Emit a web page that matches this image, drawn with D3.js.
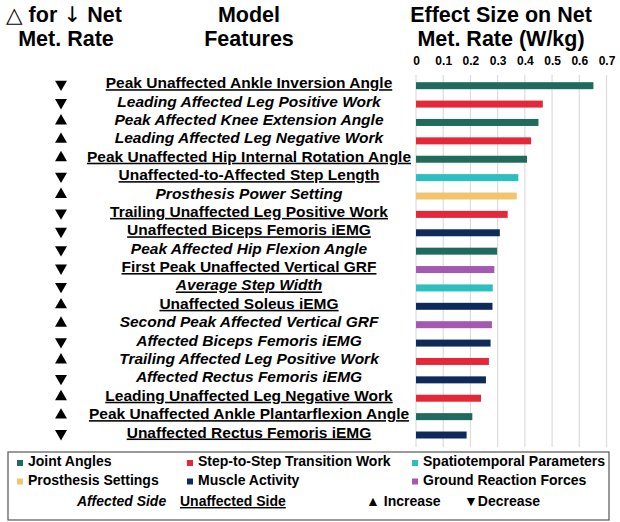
<!DOCTYPE html>
<html>
<head>
<meta charset="utf-8">
<script src="https://cdn.jsdelivr.net/npm/d3@7"></script>
<style>
  body { margin: 0; background: #fff; }
  svg { display: block; font-family: "Liberation Sans", Arial, sans-serif; font-weight: bold; }
</style>
</head>
<body>
<div id="chart"></div>
<script>
// model features, top to bottom
var features = [
  'Peak Unaffected Ankle Inversion Angle',
  'Leading Affected Leg Positive Work',
  'Peak Affected Knee Extension Angle',
  'Leading Affected Leg Negative Work',
  'Peak Unaffected Hip Internal Rotation Angle',
  'Unaffected-to-Affected Step Length',
  'Prosthesis Power Setting',
  'Trailing Unaffected Leg Positive Work',
  'Unaffected Biceps Femoris iEMG',
  'Peak Affected Hip Flexion Angle',
  'First Peak Unaffected Vertical GRF',
  'Average Step Width',
  'Unaffected Soleus iEMG',
  'Second Peak Affected Vertical GRF',
  'Affected Biceps Femoris iEMG',
  'Trailing Affected Leg Positive Work',
  'Affected Rectus Femoris iEMG',
  'Leading Unaffected Leg Negative Work',
  'Peak Unaffected Ankle Plantarflexion Angle',
  'Unaffected Rectus Femoris iEMG'
]
var effectSizes = [0.652, 0.466, 0.450, 0.423, 0.408, 0.376, 0.370, 0.337, 0.308, 0.298,
                   0.288, 0.282, 0.281, 0.279, 0.274, 0.268, 0.257, 0.239, 0.207, 0.186]
var directions = ['down', 'down', 'up', 'up', 'up', 'down', 'up', 'down', 'down', 'down',
                  'down', 'down', 'up', 'up', 'down', 'up', 'down', 'up', 'up', 'down']
// 'U' unaffected (underlined), 'A' affected (italic), 'AU' both
var sides = ['U', 'A', 'A', 'A', 'U', 'U', 'A', 'U', 'U', 'A',
             'U', 'AU', 'U', 'A', 'A', 'A', 'A', 'U', 'U', 'U']
var featureGroups = ['joint', 's2s', 'joint', 's2s', 'joint', 'spatio', 'prosth', 's2s', 'muscle', 'joint',
                     'grf', 'spatio', 'muscle', 'grf', 'muscle', 's2s', 'muscle', 's2s', 'joint', 'muscle']

var groupKeys = ['joint', 's2s', 'spatio', 'prosth', 'muscle', 'grf']
var groupNames = ['Joint Angles', 'Step-to-Step Transition Work', 'Spatiotemporal Parameters',
                  'Prosthesis Settings', 'Muscle Activity', 'Ground Reaction Forces']
var groupColors = ['#1f6b5c', '#e4283a', '#2cbfbf', '#f1c46d', '#0e2a5b', '#a359b1']
var xTicks = [0, 0.1, 0.2, 0.3, 0.4, 0.5, 0.6, 0.7]

var width = 620, height = 522

var svg = d3.select('#chart').append('svg')
  .attr('width', width)
  .attr('height', height)

var color = d3.scaleOrdinal().domain(groupKeys).range(groupColors)

var x = d3.scaleLinear().domain([0, 0.7]).range([416, 606.5])
var y = d3.scaleBand().domain(features).range([76.5, 444.2])
  .paddingInner(0.62).paddingOuter(0.31)

// headers
var headers = [
  { x: 249, lines: ['Model', 'Features'] },
  { x: 501, lines: ['Effect Size on Net', 'Met. Rate (W/kg)'] }
]
headers.forEach(function (h) {
  h.lines.forEach(function (l, i) {
    svg.append('text')
      .attr('x', h.x)
      .attr('y', 22 + i * 24)
      .attr('text-anchor', 'middle')
      .style('font-size', '21.5px')
      .text(l)
  })
})
// first header has the delta and arrow glyphs in a lighter face
var h1 = svg.append('text')
  .attr('x', 64)
  .attr('y', 22)
  .attr('text-anchor', 'middle')
  .style('font-size', '21.5px')
h1.append('tspan').style('font-family', '"DejaVu Sans"').style('font-weight', 'normal').text('\u25B3')
h1.append('tspan').text(' for ')
h1.append('tspan').style('font-family', '"DejaVu Sans"').style('font-weight', 'normal').text('\u2193')
h1.append('tspan').text(' Net')
svg.append('text')
  .attr('x', 66)
  .attr('y', 46)
  .attr('text-anchor', 'middle')
  .style('font-size', '21.5px')
  .text('Met. Rate')

// gridlines
svg.append('g')
  .selectAll('line')
  .data(xTicks)
  .enter()
  .append('line')
    .attr('x1', function (d) { return x(d) })
    .attr('x2', function (d) { return x(d) })
    .attr('y1', 75)
    .attr('y2', 447)
    .attr('stroke', '#dcdcdc')
    .attr('stroke-width', 1.2)

// top axis labels
var xAxis = svg.append('g')
  .attr('transform', 'translate(0,68)')
  .call(d3.axisTop(x).tickValues(xTicks).tickFormat(d3.format('')).tickSize(0).tickPadding(3))
xAxis.select('.domain').remove()
xAxis.selectAll('text')
  .style('font-family', '"Liberation Sans", Arial, sans-serif')
  .style('font-weight', 'bold')
  .style('font-size', '12px')
  .attr('fill', '#000')

// bars
svg.append('g')
  .selectAll('rect')
  .data(features)
  .enter()
  .append('rect')
    .attr('x', x(0))
    .attr('y', function (d) { return y(d) })
    .attr('width', function (d, i) { return x(effectSizes[i]) - x(0) })
    .attr('height', y.bandwidth())
    .attr('fill', function (d, i) { return color(featureGroups[i]) })

// feature labels
svg.append('g')
  .selectAll('text')
  .data(features)
  .enter()
  .append('text')
    .attr('x', 249)
    .attr('y', function (d) { return y(d) + y.bandwidth() / 2 + 2.5 })
    .attr('text-anchor', 'middle')
    .style('font-size', '15.5px')
    .style('font-style', function (d, i) { return sides[i].indexOf('A') >= 0 ? 'italic' : 'normal' })
    .style('text-decoration', function (d, i) { return sides[i].indexOf('U') >= 0 ? 'underline' : 'none' })
    .text(function (d) { return d })

// direction triangles
var tri = d3.symbol().type(d3.symbolTriangle).size(62)
svg.append('g')
  .selectAll('path')
  .data(features)
  .enter()
  .append('path')
    .attr('d', tri)
    .attr('transform', function (d, i) {
      var cy = y(d) + y.bandwidth() / 2 - 1.5
      return 'translate(61,' + cy + ')' + (directions[i] == 'down' ? ' rotate(180)' : '')
    })
    .attr('fill', '#000')

// legend box
var legend = svg.append('g')
legend.append('rect')
  .attr('x', 8)
  .attr('y', 452)
  .attr('width', 601)
  .attr('height', 68)
  .attr('fill', 'none')
  .attr('stroke', '#555')
  .attr('stroke-width', 1.2)

var legendCols = [17, 187, 412]
var legendSlots = [[0, 0], [1, 0], [2, 0], [0, 1], [1, 1], [2, 1]]
groupKeys.forEach(function (k, i) {
  var lx = legendCols[legendSlots[i][0]]
  var ly = 466 + legendSlots[i][1] * 18.5
  legend.append('rect')
    .attr('x', lx)
    .attr('y', ly - 6)
    .attr('width', 6)
    .attr('height', 6)
    .attr('fill', color(k))
  legend.append('text')
    .attr('x', lx + 11)
    .attr('y', ly)
    .style('font-size', '14px')
    .text(groupNames[i])
})

legend.append('text')
  .attr('x', 77).attr('y', 506)
  .style('font-size', '14px')
  .style('font-style', 'italic')
  .text('Affected Side')
legend.append('text')
  .attr('x', 180).attr('y', 506)
  .style('font-size', '14px')
  .style('text-decoration', 'underline')
  .text('Unaffected Side')
legend.append('text')
  .attr('x', 366).attr('y', 506)
  .style('font-size', '14px')
  .text('\u25B2 Increase')
legend.append('text')
  .attr('x', 464).attr('y', 506)
  .style('font-size', '14px')
  .text('\u25BCDecrease')
</script>
</body>
</html>
